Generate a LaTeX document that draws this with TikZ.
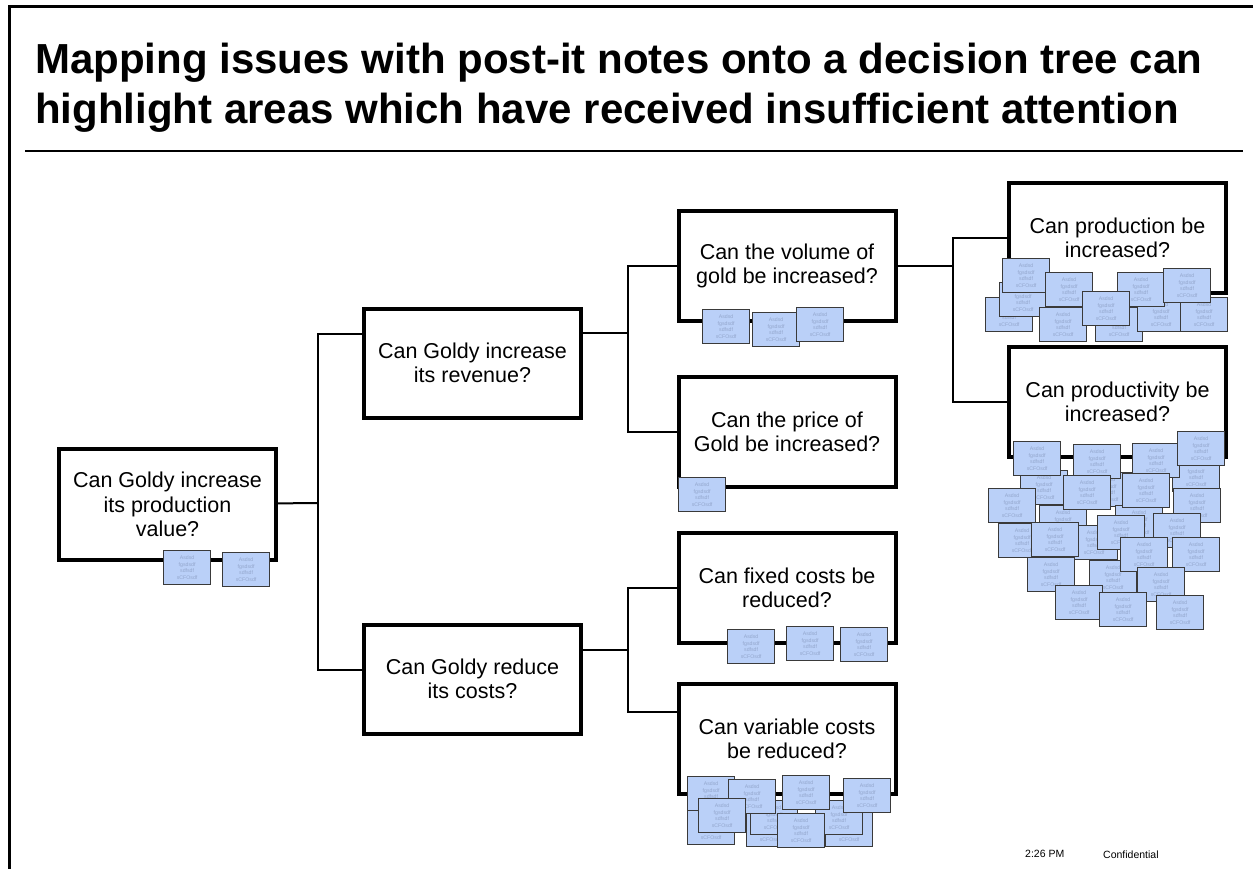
\documentclass[tikz,border=0pt]{standalone}
\usepackage{fontspec}
\setmainfont{Liberation Sans}
\definecolor{postblue}{HTML}{BAD0F8}
\definecolor{posttext}{HTML}{93A6CC}
\definecolor{postedge}{HTML}{3A3A3A}
\newcommand\postittext{Asdsd\\fgsdsdf\\sdfsdf\\sCFOsdf}
\begin{document}
\begin{tikzpicture}[x=1pt,y=-1pt,
  qbox/.style={draw, line width=4pt, fill=white, minimum width=217pt, minimum height=110pt,
    align=center, inner sep=0pt, font=\fontsize{21.5}{24.5}\selectfont},
  postit/.style={draw=postedge, line width=1.2pt, fill=postblue, minimum width=47pt,
    minimum height=34pt, inner sep=0pt, align=center, anchor=north west,
    text=posttext, font=\fontsize{5.2}{6.4}\selectfont},
  conn/.style={line width=2pt},
  titlefont/.style={font=\fontsize{42}{50}\selectfont\bfseries},
  foot/.style={font=\fontsize{10.5}{12}\selectfont, anchor=base west, inner sep=0pt}]
\useasboundingbox (0,0) rectangle (1253,869);
% frame
\draw[line width=3pt] (9,869) -- (9,7) -- (1253,7);
% title
\node[titlefont, anchor=base west, inner sep=0pt] (t1) at (35,74) {Mapping issues with post-it notes onto a decision tree can};
\node[titlefont, anchor=base west, inner sep=0pt] (t2) at (35,124) {highlight areas which have received insufficient attention};
\draw[line width=1.6pt] (25,151) -- (1243,151);
% coordinates for junctions
\coordinate (j1) at (318,503);
\coordinate (j2) at (628,333);
\coordinate (j3) at (628,650);
\coordinate (j4) at (953,266);
% connectors (behind boxes)
\draw[conn] (167.5,504.5) -- (j1);
\draw[conn] (472,334) -| (j1) |- (472,670);
\draw[conn] (472,333) -- (j2);
\draw[conn] (787,266) -| (j2) |- (787,432);
\draw[conn] (472,650) -- (j3);
\draw[conn] (787,588) -| (j3) |- (787,712);
\draw[conn] (787,266) -- (j4);
\draw[conn] (1117,238) -| (j4) |- (1117,402);
% boxes
\node[qbox, minimum height=111pt] (b1) at (167.5,504.5) {Can Goldy increase\\its production\\value?};
\node[qbox, minimum height=109pt] (b2) at (472.5,363) {Can Goldy increase\\its revenue?};
\node[qbox, minimum height=109pt] (b3) at (472.5,679) {Can Goldy reduce\\its costs?};
\node[qbox] (b4) at (787,266) {Can the volume of\\gold be increased?};
\node[qbox] (b5) at (787,432) {Can the price of\\Gold be increased?};
\node[qbox] (b6) at (787,588) {Can fixed costs be\\reduced?};
\node[qbox] (b7) at (787,739) {Can variable costs\\be reduced?};
\node[qbox] (b8) at (1117.5,238) {Can production be\\increased?};
\node[qbox] (b9) at (1117.5,402) {Can productivity be\\increased?};
% post-it notes
\foreach \x/\y [count=\i] in {163/550,222/552}
  \node[postit] (pa\i) at (\x,\y) {\postittext};
\foreach \x/\y [count=\i] in {702/309,752/312,796/307}
  \node[postit] (pb\i) at (\x,\y) {\postittext};
\foreach \x/\y [count=\i] in {678/477}
  \node[postit] (pc\i) at (\x,\y) {\postittext};
\foreach \x/\y [count=\i] in {727/629,786/626,840/627}
  \node[postit] (pd\i) at (\x,\y) {\postittext};
\foreach \x/\y [count=\i] in {687/810,825/812,746/812,750/800,815/800,777/813,687/776,728/779,698/798,782/775,843/778}
  \node[postit] (pe\i) at (\x,\y) {\postittext};
\foreach \x/\y [count=\i] in {985/297,999/282,1039/307,1095/307,1137/297,1180/297,1002/258,1045/272,1117/272,1082/291,1163/268}
  \node[postit] (pf\i) at (\x,\y) {\postittext};
\foreach \x/\y [count=\i] in {1020/470,1172/457,1084/472,1039/505,1115/505,998/523,1070/525,1089/560,
  1013/441,1073/444,1132/443,1177/431,988/488,1063/475,1122/473,1173/488,
  1031/522,1097/515,1153/513,1172/537,1120/537,1027/557,1137/567,1055/585,1099/592,1156/595}
  \node[postit] (pg\i) at (\x,\y) {\postittext};
% footer
\node[foot] (time) at (1025,857) {2:26 PM};
\node[foot] (conf) at (1103,858) {Confidential};
\end{tikzpicture}
\end{document}
